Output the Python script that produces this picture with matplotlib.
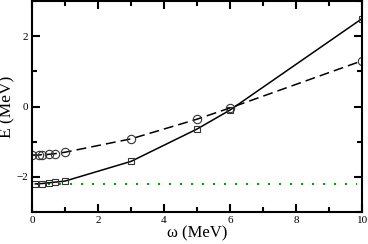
import matplotlib
matplotlib.use("Agg")
import matplotlib.pyplot as plt
from matplotlib.ticker import MultipleLocator

# squares (solid line)
w_sq = [0.1, 0.3, 0.5, 0.7, 1.0, 3.0, 5.0, 6.0, 10.0]
E_sq = [-2.2, -2.19, -2.17, -2.15, -2.12, -1.56, -0.64, -0.1, 2.5]

# circles (dashed line)
w_ci = [0.0, 0.2, 0.3, 0.5, 0.7, 1.0, 3.0, 5.0, 6.0, 10.0]
E_ci = [-1.38, -1.38, -1.37, -1.36, -1.34, -1.30, -0.92, -0.36, -0.04, 1.30]

# reference level (green dotted)
w_ref = [0.15, 9.85]
E_ref = [-2.2, -2.2]

plt.rcParams['font.family'] = ['Liberation Serif', 'DejaVu Serif']

fig = plt.figure(figsize=(3.68, 2.44), dpi=100)
ax = fig.add_axes([0.087, 0.131, 0.897, 0.865])

ax.plot(w_ref, E_ref, color='#00a000', lw=1.44, linestyle=(0, (1, 4.5)))
ax.plot(w_sq, E_sq, color='black', lw=1.1, marker='s', ms=4.5,
        mfc='none', mec='#333333', mew=0.8)
ax.plot(w_ci, E_ci, color='black', lw=1.1, linestyle=(0, (6.5, 3.3)),
        marker='o', ms=6, mfc='none', mec='#333333', mew=0.8)

ax.set_xlim(0, 10)
ax.set_ylim(-3, 3)
ax.xaxis.set_major_locator(MultipleLocator(2))
ax.xaxis.set_minor_locator(MultipleLocator(1))
ax.yaxis.set_major_locator(MultipleLocator(2))
ax.yaxis.set_minor_locator(MultipleLocator(1))
ax.tick_params(which='both', direction='in', top=True, right=True,
               labelsize=8, pad=3)
ax.tick_params(which='major', length=6, width=1.5)
ax.tick_params(which='minor', length=3.5, width=1.5)
for s in ax.spines.values():
    s.set_linewidth(1.5)

ax.set_xlabel("ω (MeV)", fontsize=12, labelpad=0)
ax.set_ylabel("E (MeV)", fontsize=12.5)
ax.yaxis.set_label_coords(-0.05, 0.5)

fig.savefig("out.png", dpi=100)
